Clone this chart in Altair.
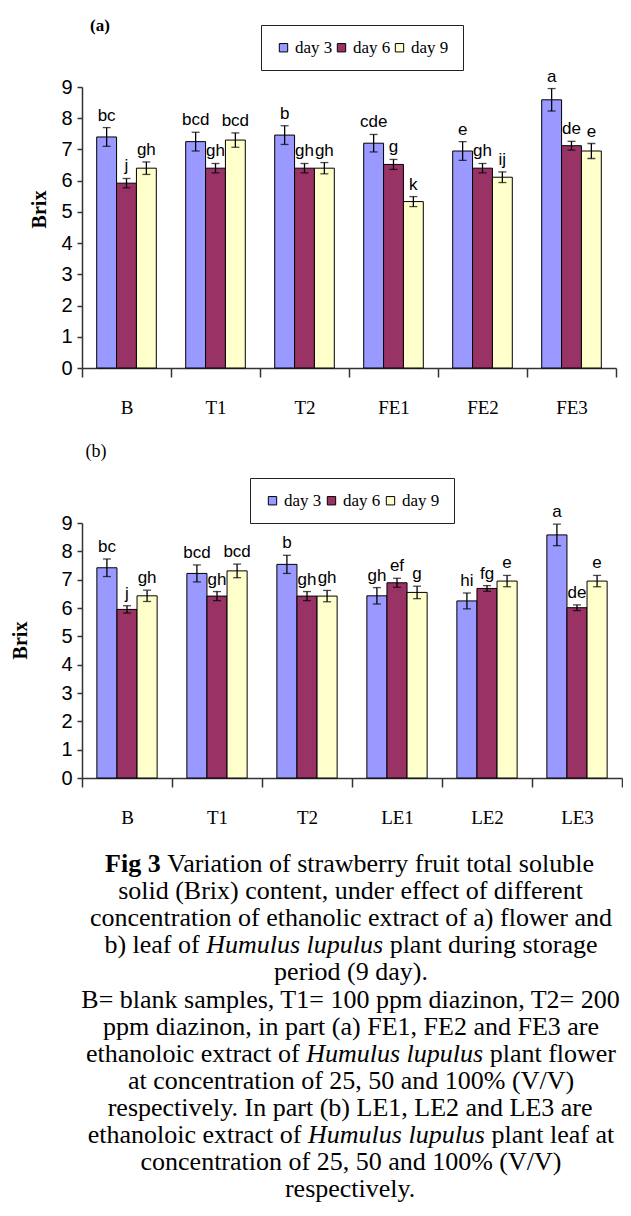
import altair as alt
import pandas as pd

# ---------------- data ----------------
days = ["day 3", "day 6", "day 9"]
colors = ["#9999FF", "#993366", "#FFFFCC"]

cats_a = ["B", "T1", "T2", "FE1", "FE2", "FE3"]
d3_a = [7.40, 7.25, 7.46, 7.20, 6.95, 8.59]
d6_a = [5.92, 6.40, 6.40, 6.52, 6.40, 7.12]
d9_a = [6.40, 7.30, 6.40, 5.33, 6.11, 6.95]
e3_a = [0.30, 0.30, 0.30, 0.28, 0.30, 0.36]
e6_a = [0.15, 0.15, 0.15, 0.16, 0.15, 0.14]
e9_a = [0.20, 0.23, 0.18, 0.16, 0.17, 0.24]
l3_a = ["bc", "bcd", "b", "cde", "e", "a"]
l6_a = ["j", "gh", "gh", "g", "gh", "de"]
l9_a = ["gh", "bcd", "gh", "k", "ij", "e"]

cats_b = ["B", "T1", "T2", "LE1", "LE2", "LE3"]
d3_b = [7.42, 7.22, 7.54, 6.43, 6.25, 8.58]
d6_b = [5.95, 6.42, 6.42, 6.89, 6.69, 6.01]
d9_b = [6.43, 7.31, 6.42, 6.55, 6.95, 6.95]
e3_b = [0.31, 0.30, 0.32, 0.29, 0.28, 0.38]
e6_b = [0.13, 0.16, 0.16, 0.16, 0.10, 0.10]
e9_b = [0.20, 0.24, 0.20, 0.22, 0.20, 0.20]
l3_b = ["bc", "bcd", "b", "gh", "hi", "a"]
l6_b = ["j", "gh", "gh", "ef", "fg", "de"]
l9_b = ["gh", "bcd", "gh", "g", "e", "e"]

y_ticks = [0, 1, 2, 3, 4, 5, 6, 7, 8, 9]
y_title = "Brix"
tags = ["(a)", "(b)"]

caption_lines = [
    [("Fig 3", "bold"), (" Variation of strawberry fruit total soluble", "normal")],
    [("solid (Brix) content, under effect of different", "normal")],
    [("concentration of ethanolic extract of a) flower and", "normal")],
    [("b) leaf of ", "normal"), ("Humulus lupulus", "italic"), (" plant during storage", "normal")],
    [("period (9 day).", "normal")],
    [("B= blank samples, T1= 100 ppm diazinon, T2= 200", "normal")],
    [("ppm diazinon, in part (a) FE1, FE2 and FE3 are", "normal")],
    [("ethanoloic extract of ", "normal"), ("Humulus lupulus", "italic"), (" plant flower", "normal")],
    [("at concentration of 25, 50 and 100% (V/V)", "normal")],
    [("respectively. In part (b) LE1, LE2 and LE3 are", "normal")],
    [("ethanoloic extract of ", "normal"), ("Humulus lupulus", "italic"), (" plant leaf at", "normal")],
    [("concentration of 25, 50 and 100% (V/V)", "normal")],
    [("respectively.", "normal")],
]

# ---------------- fonts / metrics ----------------
SERIF = "Liberation Serif, Times New Roman, serif"
SANS = "Liberation Sans, Arial, sans-serif"

REG = {" ": 250, "(": 333, ")": 333, ",": 250, ".": 250, "/": 278, "=": 564, "%": 833,
       "0": 500, "1": 500, "2": 500, "3": 500, "4": 500, "5": 500, "6": 500, "7": 500, "8": 500, "9": 500,
       "A": 722, "B": 667, "C": 667, "D": 722, "E": 611, "F": 556, "G": 722, "H": 722, "I": 333,
       "J": 389, "K": 722, "L": 611, "M": 889, "N": 722, "O": 722, "P": 556, "Q": 722, "R": 667,
       "S": 556, "T": 611, "U": 722, "V": 722, "W": 944, "X": 722, "Y": 722, "Z": 611,
       "a": 444, "b": 500, "c": 444, "d": 500, "e": 444, "f": 333, "g": 500, "h": 500, "i": 278,
       "j": 278, "k": 500, "l": 278, "m": 778, "n": 500, "o": 500, "p": 500, "q": 500, "r": 333,
       "s": 389, "t": 278, "u": 500, "v": 500, "w": 722, "x": 500, "y": 500, "z": 444}
BOLD = dict(REG, **{"F": 611, "i": 278, "g": 500, "3": 500, " ": 250})
ITAL = dict(REG, **{"H": 722, "u": 500, "m": 722, "l": 278, "s": 389, "p": 500, " ": 250})
METRICS = {"normal": REG, "bold": BOLD, "italic": ITAL}

ORIGIN = 74          # common left offset (svg px) of every panel's plot area
CAP_FS = 26
CAP_CX = 269         # caption centre, relative to the caption view
CAP_Y0 = 24
CAP_DY = 27.1
CAP_W = 541
CAP_H = 362


def text_w(s, style):
    m = METRICS[style]
    return sum(m.get(ch, 500) for ch in s) / 1000.0 * CAP_FS


seg_rows = []
for li, segs in enumerate(caption_lines):
    total = sum(text_w(t, st) for t, st in segs)
    cur = CAP_CX - total / 2.0
    for t, st in segs:
        lead = len(t) - len(t.lstrip(" "))
        seg_rows.append(dict(x=cur + text_w(t[:lead], st), y=CAP_Y0 + li * CAP_DY,
                             txt=t.strip(), style=st))
        cur += text_w(t, st)
cap_df = pd.DataFrame(seg_rows)


def panel(cats, vals, errs, lets, W, H, leg_x, leg_y, colpad, tx, ty,
          tag, tag_x, tag_y, tag_fs, tag_wt, top, bottom):
    rows = []
    for i, c in enumerate(cats):
        for j, d in enumerate(days):
            v = vals[j][i]
            e = errs[j][i]
            rows.append(dict(cat=c, day=d, val=v, lo=v - e, hi=v + e, let=lets[j][i]))
    df = pd.DataFrame(rows)

    base = alt.Chart(df).encode(
        x=alt.X("cat:N", sort=cats, title=None,
                scale=alt.Scale(paddingInner=0, paddingOuter=0),
                axis=alt.Axis(labelAngle=0, tickBand="extent", tickSize=9, tickWidth=1.5,
                              tickColor="#333", domainColor="#333", domainWidth=1.5,
                              labelFont=SERIF, labelFontSize=19, labelColor="black",
                              labelPadding=30, labelBaseline="middle")),
        xOffset=alt.XOffset("day:N", sort=days,
                            scale=alt.Scale(paddingInner=0, paddingOuter=0.74)),
    )
    yscale = alt.Scale(domain=[0, 9], nice=False)
    yax = alt.Axis(values=y_ticks, tickCount=10, grid=False, tickSize=5,
                   tickWidth=1.5, tickColor="#333", domainColor="#333",
                   domainWidth=1.5, labelFont=SANS, labelFontSize=20,
                   labelColor="black", labelPadding=5, labelOverlap=False,
                   titleFont=SERIF, titleFontSize=20,
                   titleFontWeight="bold", titleColor="black",
                   titleX=tx, titleY=ty, titleAngle=270,
                   titleAlign="center", titleBaseline="middle")
    bars = base.mark_bar(stroke="black", strokeWidth=1).encode(
        y=alt.Y("val:Q", scale=yscale, title=y_title, axis=yax),
        color=alt.Color("day:N", sort=days, scale=alt.Scale(domain=days, range=colors),
                        legend=alt.Legend(title=None, orient="none", legendX=leg_x,
                                          legendY=leg_y, direction="horizontal",
                                          strokeColor="#222", fillColor="white",
                                          padding=14, symbolType="square", symbolSize=70,
                                          symbolStrokeColor="black", symbolStrokeWidth=1,
                                          labelFont=SERIF, labelFontSize=17,
                                          labelColor="black", labelOffset=3,
                                          columnPadding=colpad)),
    )
    err = base.mark_rule(color="black", strokeWidth=1.3).encode(
        y=alt.Y("lo:Q", scale=yscale, title=y_title, axis=yax), y2="hi:Q")
    cap_lo = base.mark_tick(color="black", thickness=1.3, size=8).encode(
        y=alt.Y("lo:Q", scale=yscale, title=y_title, axis=yax))
    cap_hi = base.mark_tick(color="black", thickness=1.3, size=8).encode(
        y=alt.Y("hi:Q", scale=yscale, title=y_title, axis=yax))
    labels = base.mark_text(baseline="bottom", dy=-3, font=SANS, fontSize=17,
                            color="black").encode(
        y=alt.Y("hi:Q", scale=yscale, title=y_title, axis=yax), text="let:N")
    tag_l = alt.Chart(pd.DataFrame({"tag": [tag]})).mark_text(
        font=SERIF, fontSize=tag_fs, fontWeight=tag_wt, align="center", baseline="middle",
        color="black").encode(x=alt.value(tag_x), y=alt.value(tag_y), text="tag:N")
    # invisible frame fixing the panel's extent inside the page
    spacer = alt.Chart(pd.DataFrame({"s": [0]})).mark_rule(opacity=0, color="white").encode(
        x=alt.value(-ORIGIN), x2=alt.value(-ORIGIN), y=alt.value(top), y2=alt.value(bottom))
    return alt.layer(bars, err, cap_lo, cap_hi, labels, tag_l, spacer).properties(
        width=W, height=H)


pa = panel(cats_a, [d3_a, d6_a, d9_a], [e3_a, e6_a, e9_a], [l3_a, l6_a, l9_a],
           W=534, H=281, leg_x=179, leg_y=-62, colpad=-6, tx=-43, ty=122,
           tag=tags[0], tag_x=18, tag_y=-61, tag_fs=17, tag_wt="bold",
           top=-79, bottom=333)
pb = panel(cats_b, [d3_b, d6_b, d9_b], [e3_b, e6_b, e9_b], [l3_b, l6_b, l9_b],
           W=540, H=255, leg_x=168, leg_y=-45, colpad=1, tx=-62, ty=117,
           tag=tags[1], tag_x=14, tag_y=-71, tag_fs=18, tag_wt="normal",
           top=-103, bottom=317)

cx = alt.X("x:Q", scale=alt.Scale(domain=[0, CAP_W], nice=False, zero=False), axis=None)
cy = alt.Y("y:Q", scale=alt.Scale(domain=[0, CAP_H], nice=False, zero=False, reverse=True),
           axis=None)
cap_base = alt.Chart(cap_df).encode(x=cx, y=cy, text="txt:N")
cap_layers = []
for st, wt, fs in [("normal", "normal", "normal"), ("bold", "bold", "normal"),
                   ("italic", "normal", "italic")]:
    cap_layers.append(cap_base.transform_filter(alt.datum.style == st).mark_text(
        align="left", baseline="middle", font=SERIF, fontSize=CAP_FS,
        fontWeight=wt, fontStyle=fs, color="black"))
caption = alt.layer(*cap_layers).properties(width=CAP_W, height=CAP_H)

chart = alt.vconcat(pa, pb, caption, spacing=0).resolve_scale(
    color="independent", x="independent", y="independent", xOffset="independent"
).resolve_legend(color="independent").properties(
    padding=0, background="white"
).configure_view(stroke=None)

chart.save("out.html", embed_options={"renderer": "svg", "actions": False})
